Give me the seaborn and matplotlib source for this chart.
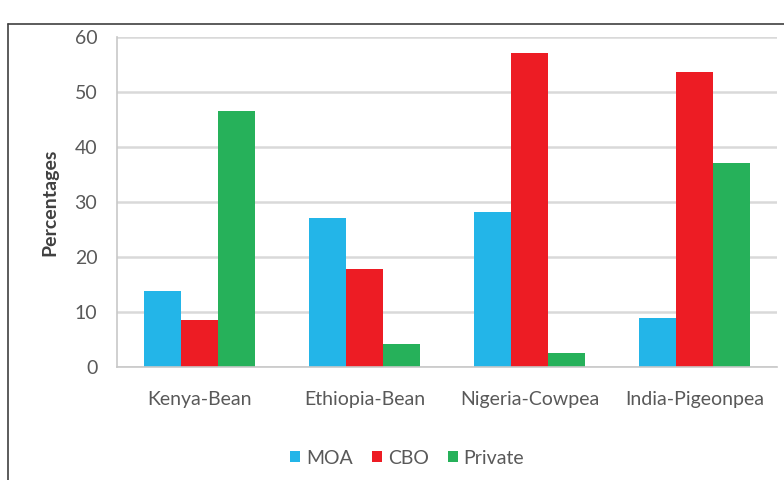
import seaborn as sns
import pandas as pd
import matplotlib.pyplot as plt
from matplotlib.lines import Line2D

crops = ["Kenya-Bean", "Ethiopia-Bean", "Nigeria-Cowpea", "India-Pigeonpea"]
moa = [13.8, 27.1, 28.2, 8.9]
cbo = [8.5, 17.8, 57.1, 53.6]
private = [46.6, 4.3, 2.5, 37.1]
groups = ["MOA", "CBO", "Private"]
colors = {"MOA": "#23B5E8", "CBO": "#ED1C24", "Private": "#26B15A"}

df = pd.DataFrame({"crop": crops * 3,
                   "source": ["MOA"] * 4 + ["CBO"] * 4 + ["Private"] * 4,
                   "pct": moa + cbo + private})

sns.set_theme(style="white")
plt.rcParams["font.family"] = ["Lato", "DejaVu Sans"]

fig = plt.figure(figsize=(7.84, 4.8), dpi=100)
ax = fig.add_axes([0.149, 0.235, 0.842, 0.688])

sns.barplot(data=df, x="crop", y="pct", hue="source", hue_order=groups,
            palette=colors, width=0.67, gap=0, saturation=1, ax=ax,
            linewidth=0, legend=True)

ax.set_ylim(0, 60)
ax.set_xlim(-0.5, 3.5)
ax.set_yticks(range(0, 61, 10))
ax.yaxis.grid(True, color="#d9d9d9", linewidth=1.8)
ax.set_axisbelow(True)
for s in ["top", "right"]:
    ax.spines[s].set_visible(False)
ax.spines["left"].set_color("#c8c8c8")
ax.spines["bottom"].set_color("#c8c8c8")
ax.spines["left"].set_linewidth(1.2)
ax.spines["bottom"].set_linewidth(1.2)
ax.tick_params(axis="y", length=5, color="#d9d9d9", width=1.5, labelsize=14,
               labelcolor="#595959", pad=9)
ax.tick_params(axis="x", which="major", length=0, labelsize=14,
               labelcolor="#595959", pad=17)
ax.set_xticks([-0.5, 0.5, 1.5, 2.5, 3.5], minor=True)
ax.tick_params(axis="x", which="minor", length=5, color="#c8c8c8", width=1)
ax.set_xlabel("")
ax.set_ylabel("Percentages", fontsize=14, fontweight="bold", color="#404040",
              labelpad=12)

ax.legend(loc="center", bbox_to_anchor=(0.44, -0.276), ncol=3,
          frameon=False, handlelength=0.5, handleheight=0.5,
          handletextpad=0.3, columnspacing=1.0, fontsize=14,
          labelcolor="#595959")

# outer frame of the original figure
fig.add_artist(Line2D([0.010, 1.0], [0.95, 0.95], color="#404040", lw=1.2,
                      transform=fig.transFigure))
fig.add_artist(Line2D([0.010, 0.010], [0.0, 0.95], color="#404040", lw=1.2,
                      transform=fig.transFigure))

fig.savefig("out.png", dpi=100)
